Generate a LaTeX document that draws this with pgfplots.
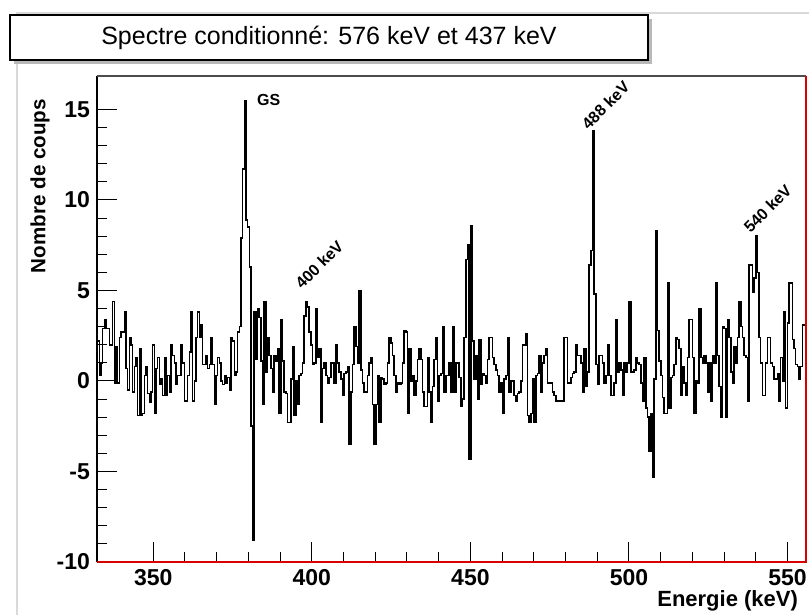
\documentclass[border=0pt]{standalone}
\usepackage{fontspec}
\setmainfont{Liberation Sans}
\usepackage{pgfplots}
\pgfplotsset{compat=1.18}
\usepackage{pgfplotstable}

% conditioned spectrum, counts per bin (bin width ~0.525 keV, first bin at 331.4 keV)
\pgfplotstableread{
v
1.5
0.0
2.2
0.3
1.0
2.9
3.4
2.9
2.9
2.0
2.0
4.4
-0.1
1.9
-0.1
2.4
2.7
2.7
3.8
0.7
-0.5
2.4
2.0
-0.6
0.8
1.3
-1.9
1.8
-1.9
-1.8
0.3
0.8
-0.7
-1.2
-0.6
2.0
-1.8
0.7
1.3
-0.2
0.1
-0.8
1.3
-0.8
0.3
-0.6
2.0
1.4
1.0
-0.2
0.3
0.3
2.0
1.0
-1.1
-1.1
0.3
1.6
3.8
-1.1
0.0
2.4
3.8
2.4
3.1
0.9
0.9
1.4
0.7
0.9
2.4
0.9
-1.3
0.3
1.3
1.0
0.0
-0.2
0.3
-0.1
0.2
-0.5
2.4
2.2
0.3
0.5
2.7
3.0
7.9
11.7
15.5
8.9
8.5
6.3
-2.5
-8.8
3.8
1.2
4.0
3.5
1.1
-1.3
4.4
0.5
2.4
1.4
0.7
-0.6
1.4
1.1
1.8
-1.8
3.4
1.1
-0.6
-0.7
-2.3
-2.3
0.1
1.9
-1.9
0.0
-1.3
0.3
0.4
1.0
3.6
4.4
4.1
2.7
2.0
0.9
1.0
4.0
1.3
1.8
-2.3
0.7
1.0
0.3
-0.1
0.2
1.0
1.0
-0.1
2.0
1.0
0.5
0.1
-0.8
0.4
0.5
0.8
-3.5
-0.6
0.9
3.0
1.9
1.0
5.0
0.6
-0.1
-0.6
-0.6
0.3
1.0
1.3
-1.3
-3.5
-1.3
0.3
-2.3
0.2
0.1
-0.2
-0.1
1.0
2.4
2.1
1.4
0.3
-0.6
-0.1
-0.2
-0.1
1.0
2.8
2.7
-1.8
1.8
0.0
0.3
-0.8
0.0
1.2
1.8
1.2
-0.6
-1.4
-1.4
1.3
-0.6
-2.3
-0.3
1.2
2.4
-1.1
0.3
0.4
3.0
-0.6
0.3
0.3
1.0
-0.6
3.0
-0.6
1.0
1.0
0.2
-1.4
-1.0
2.4
6.7
7.5
-4.3
8.6
2.2
0.1
1.4
-1.0
2.3
-0.2
0.4
0.3
-0.1
1.2
2.4
2.4
1.3
0.9
0.6
0.3
-0.6
-0.1
-1.8
0.1
0.3
2.4
-0.6
0.0
0.0
-0.8
-1.1
-0.7
-0.6
0.0
2.0
2.0
2.6
-1.9
-2.3
-1.8
0.1
-2.3
0.3
0.4
1.4
-0.6
1.0
1.4
1.8
-0.1
-0.1
-0.1
-0.6
-0.8
-1.1
-1.1
-1.1
-1.1
-1.1
2.4
2.4
-0.1
-0.1
0.2
0.4
0.5
2.0
1.4
1.4
1.0
-0.6
1.8
-0.3
0.5
6.4
7.2
13.8
4.8
0.9
-0.2
1.4
1.4
1.0
-0.1
0.3
2.0
0.3
-0.8
-0.8
-0.1
3.4
0.5
1.0
0.6
-0.8
1.0
0.5
1.0
4.4
0.5
0.5
0.6
1.3
1.0
0.9
-0.1
-1.1
1.3
-1.5
-2.0
-3.9
-1.8
-5.3
0.1
8.3
2.8
1.1
0.3
-0.9
-1.8
-1.8
5.4
-1.5
0.2
0.3
0.9
2.4
2.3
1.8
-0.8
0.8
-0.1
-0.8
1.3
3.4
3.4
1.3
-1.8
0.0
-0.1
4.0
1.3
1.0
1.4
1.0
-0.6
1.0
-1.1
1.4
1.0
5.4
1.4
-0.3
-2.0
3.0
2.9
-2.0
3.4
2.4
0.5
-0.1
1.9
1.0
2.4
4.4
3.0
2.4
1.4
1.3
-1.1
6.4
6.4
4.9
5.7
8.0
6.0
2.4
1.0
-0.8
-0.8
1.0
2.4
2.4
1.0
0.8
0.1
0.1
0.4
-1.1
1.3
0.0
3.8
-1.5
3.2
5.4
5.4
2.3
1.8
0.9
0.8
0.1
0.8
3.1
3.1
3.1
}\spectrum

\begin{document}
\begin{tikzpicture}
\path[use as bounding box] (-48.5pt,-26.5pt) rectangle (356pt,281pt);
% pad frame
\draw[gray!30, line width=0.6pt] (-40pt,-26.5pt) -- (-40pt,274.5pt) -- (356pt,274.5pt);

\begin{axis}[
    at={(0pt,0pt)}, anchor=south west,
    scale only axis, width=354.5pt, height=243pt,
    xmin=332.25, xmax=555.83, ymin=-10, ymax=16.85,
    axis line style={draw=none},
    xtick={350,400,450,500,550},
    ytick={-10,-5,0,5,10,15},
    minor x tick num=4, minor y tick num=4,
    xtick pos=bottom, ytick pos=left, tick align=inside,
    major tick length=10pt, minor tick length=5pt,
    every tick/.style={black, line width=0.5pt},
    ticklabel style={font=\fontsize{11.5}{13}\bfseries\selectfont},
    /pgf/number format/assume math mode=true,
    scaled ticks=false,
  ]
  \addplot[black, line width=0.75pt, const plot mark left]
    table[x expr={331.4+0.5254*\coordindex}, y=v] {\spectrum};

  \node[anchor=west, inner sep=0, font=\fontsize{8}{9}\bfseries\selectfont]
    at (axis cs:382.6,15.5) {GS};
  \node[anchor=south west, rotate=45, inner sep=0, font=\fontsize{8}{9}\bfseries\selectfont]
    at (axis cs:397.0,5.0) {400 keV};
  \node[anchor=south west, rotate=45, inner sep=0, font=\fontsize{8}{9}\bfseries\selectfont]
    at (axis cs:487.3,13.8) {488 keV};
  \node[anchor=south west, rotate=45, inner sep=0, font=\fontsize{8}{9}\bfseries\selectfont]
    at (axis cs:538.4,8.1) {540 keV};
\end{axis}

% frame
\draw[black, line width=0.6pt] (0pt,0pt) -- (0pt,243pt);
\draw[gray!60!black, line width=0.7pt] (0pt,243pt) -- (354.5pt,243pt);
\draw[red!85!black, line width=0.9pt] (354.5pt,243pt) -- (354.5pt,0pt) -- (0pt,0pt);

% axis titles
\node[rotate=90, anchor=east, font=\fontsize{10.3}{12}\bfseries\selectfont]
  at (-28.5pt,235pt) {Nombre de coups};
\node[anchor=east, font=\fontsize{11}{13}\bfseries\selectfont]
  at (354pt,-19.5pt) {Energie (keV)};

% title box with shadow
\fill[gray!55] (-41.5pt,249pt) rectangle (277.5pt,271.5pt);
\draw[fill=white, line width=0.8pt] (-43.5pt,251pt) rectangle (275.5pt,273.5pt);
\node[font=\fontsize{12.5}{15}\selectfont] at (116pt,262pt)
  {Spectre conditionné: 576 keV et 437 keV};
\end{tikzpicture}
\end{document}
